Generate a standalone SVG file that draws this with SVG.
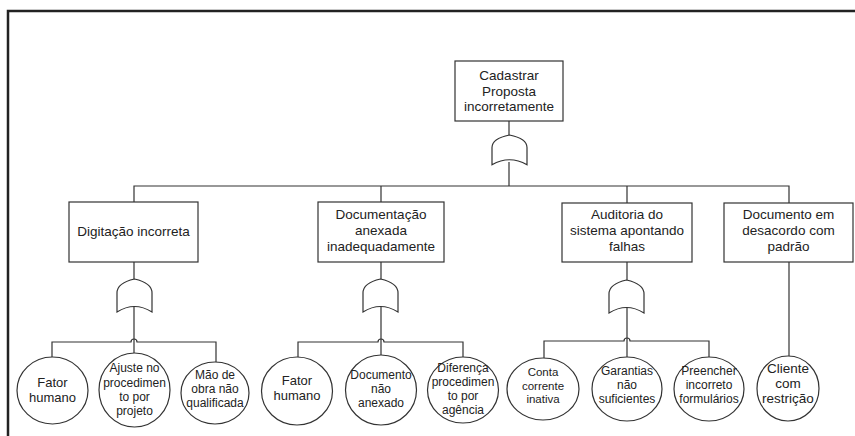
<svg xmlns="http://www.w3.org/2000/svg" width="855" height="436" viewBox="0 0 855 436">
<style>
.ln{fill:none;stroke:#333;stroke-width:1.2}
.box{fill:#fff;stroke:#333;stroke-width:1.2}
.gate{fill:#fff;stroke:#333;stroke-width:1.2}
.ev{fill:#fff;stroke:#333;stroke-width:1.2}
text{font-family:"Liberation Sans",Arial,sans-serif;fill:#222;text-anchor:middle}
.bt{font-size:13.5px}
.ct{font-size:12px}
.ct2{font-size:13.5px}
</style>
<defs>
<path id="orgate" d="M-17.5,33 L-17.5,14 C-17.5,6 -9,2 0,0 C9,2 17.5,6 17.5,14 L17.5,33 Q0,22 -17.5,33 Z"/>
</defs>
<rect width="855" height="436" fill="#fff"/>
<path d="M8,436 L8,11 L855,11" fill="none" stroke="#222" stroke-width="2.5"/>

<g id="connectors">
  <path class="ln" d="M509,121 L509,135 M509,162 L509,186"/>
  <path class="ln" d="M134,203 L134,186 L789,186 L789,203 M381,186 L381,202 M627,186 L627,203"/>
  <!-- group 1 -->
  <path class="ln" d="M134,262 L134,279 M134,305 L134,353"/>
  <path class="ln" d="M52,357 L52,342 L131,342 A3,3 0 0 1 137,342 L216,342 L216,362"/>
  <!-- group 2 -->
  <path class="ln" d="M381,262 L381,279 M381,305 L381,355"/>
  <path class="ln" d="M298,357 L298,342 L378,342 A3,3 0 0 1 384,342 L463,342 L463,357"/>
  <!-- group 3 -->
  <path class="ln" d="M627,262 L627,280 M627,306 L627,357"/>
  <path class="ln" d="M544,358 L544,341 L624,341 A3,3 0 0 1 630,341 L709,341 L709,357"/>
  <!-- group 4 -->
  <path class="ln" d="M789,262 L789,356"/>
</g>

<g id="top">
  <rect class="box" x="455" y="61" width="108" height="60"/>
  <text class="bt" x="509" y="80">Cadastrar</text>
  <text class="bt" x="509" y="95.5">Proposta</text>
  <text class="bt" x="509" y="111">incorretamente</text>
</g>
<g id="gate-top"><use href="#orgate" class="gate" transform="translate(509.5,135) scale(1,0.9)"/></g>

<g id="digitacao">
  <rect class="box" x="69" y="202" width="129" height="60"/>
  <text class="bt" x="133.5" y="236">Digitação incorreta</text>
</g>
<g id="gate-1"><use href="#orgate" class="gate" transform="translate(134.5,279)"/></g>

<g id="documentacao">
  <rect class="box" x="318" y="202" width="126" height="60"/>
  <text class="bt" x="381" y="219">Documentação</text>
  <text class="bt" x="381" y="235">anexada</text>
  <text class="bt" x="381" y="251">inadequadamente</text>
</g>
<g id="gate-2"><use href="#orgate" class="gate" transform="translate(380.5,279)"/></g>

<g id="auditoria">
  <rect class="box" x="562" y="203" width="130" height="59"/>
  <text class="bt" x="627" y="219">Auditoria do</text>
  <text class="bt" x="627" y="235">sistema apontando</text>
  <text class="bt" x="627" y="251">falhas</text>
</g>
<g id="gate-3"><use href="#orgate" class="gate" transform="translate(626.5,280)"/></g>

<g id="desacordo">
  <rect class="box" x="724" y="203" width="129" height="59"/>
  <text class="bt" x="788.5" y="219">Documento em</text>
  <text class="bt" x="788.5" y="235">desacordo com</text>
  <text class="bt" x="788.5" y="251">padrão</text>
</g>

<g id="e1">
  <ellipse class="ev" cx="52.5" cy="390.5" rx="35.5" ry="33.5"/>
  <text class="ct" x="52.5" y="387" style="font-size:13px">Fator</text>
  <text class="ct" x="52.5" y="402" style="font-size:13px">humano</text>
</g>
<g id="e2">
  <ellipse class="ev" cx="134.5" cy="390" rx="35.5" ry="37"/>
  <text class="ct" x="134.5" y="372">Ajuste no</text>
  <text class="ct" x="134.5" y="386.5">procedimen</text>
  <text class="ct" x="134.5" y="400.5">to por</text>
  <text class="ct" x="134.5" y="414.5">projeto</text>
</g>
<g id="e3">
  <ellipse class="ev" cx="215" cy="393" rx="34" ry="31"/>
  <text class="ct" x="215" y="379">Mão de</text>
  <text class="ct" x="215" y="393">obra não</text>
  <text class="ct" x="215" y="407">qualificada</text>
</g>
<g id="e4">
  <ellipse class="ev" cx="297" cy="391" rx="35.5" ry="34"/>
  <text class="ct" x="297" y="385" style="font-size:13px">Fator</text>
  <text class="ct" x="297" y="400" style="font-size:13px">humano</text>
</g>
<g id="e5">
  <ellipse class="ev" cx="381" cy="390" rx="35.5" ry="35"/>
  <text class="ct" x="381" y="379">Documento</text>
  <text class="ct" x="381" y="393">não</text>
  <text class="ct" x="381" y="407">anexado</text>
</g>
<g id="e6">
  <ellipse class="ev" cx="463" cy="390" rx="35.5" ry="33"/>
  <text class="ct" x="463" y="372">Diferença</text>
  <text class="ct" x="463" y="386">procedimen</text>
  <text class="ct" x="463" y="400">to por</text>
  <text class="ct" x="463" y="414">agência</text>
</g>
<g id="e7">
  <ellipse class="ev" cx="543" cy="389" rx="36" ry="31"/>
  <text class="ct" x="543" y="376" style="font-size:11.5px">Conta</text>
  <text class="ct" x="543" y="389.5" style="font-size:11.5px">corrente</text>
  <text class="ct" x="543" y="403" style="font-size:11.5px">inativa</text>
</g>
<g id="e8">
  <ellipse class="ev" cx="627" cy="389" rx="35" ry="32"/>
  <text class="ct" x="627" y="375">Garantias</text>
  <text class="ct" x="627" y="389">não</text>
  <text class="ct" x="627" y="403">suficientes</text>
</g>
<g id="e9">
  <ellipse class="ev" cx="709" cy="389" rx="35" ry="32"/>
  <text class="ct" x="709" y="375">Preencher</text>
  <text class="ct" x="709" y="389">incorreto</text>
  <text class="ct" x="709" y="403">formulários</text>
</g>
<g id="e10">
  <ellipse class="ev" cx="788" cy="388.5" rx="31" ry="32.5"/>
  <text class="ct2" x="788" y="373">Cliente</text>
  <text class="ct2" x="788" y="388">com</text>
  <text class="ct2" x="788" y="403">restrição</text>
</g>
</svg>
